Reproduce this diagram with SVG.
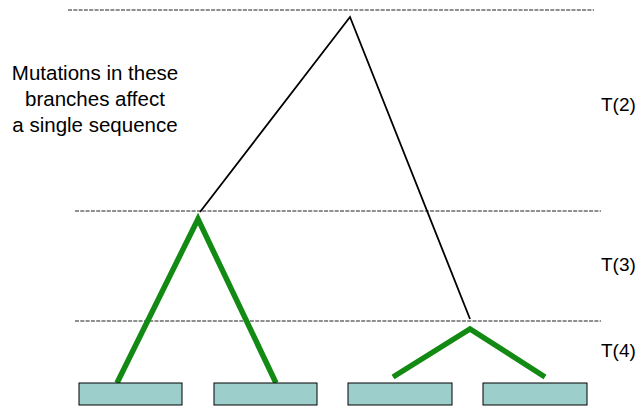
<svg xmlns="http://www.w3.org/2000/svg" width="640" height="407" viewBox="0 0 640 407">
<style>
.dot{stroke:#8f8f8f;stroke-width:2.2;stroke-dasharray:4 1.3;fill:none}
.blk{stroke:#000;stroke-width:1.8;fill:none}
.grn{stroke:#138a13;stroke-width:5.5;fill:none;stroke-linecap:butt}
.leaf{fill:#9ccfcc;stroke:#000;stroke-width:1}
.t{font-family:"Liberation Sans",Arial,sans-serif;font-size:20.5px;fill:#000}
.l{font-family:"Liberation Sans",Arial,sans-serif;font-size:19px;fill:#000}
</style>
<rect width="640" height="407" fill="#fff"/>
<g id="timelines">
<line class="dot" x1="68" y1="10" x2="594" y2="10"/>
<line class="dot" x1="75" y1="211" x2="601" y2="211"/>
<line class="dot" x1="75" y1="321" x2="601" y2="321"/>
</g>
<g id="connectors">
<polyline class="blk" points="200,212 350,17 470,319"/>
<polyline class="grn" points="117,383 198,219 276,383"/>
<polyline class="grn" points="393,377 470,329 545,377"/>
</g>
<g id="leaf1"><rect class="leaf" x="79" y="383" width="103" height="22"/></g>
<g id="leaf2"><rect class="leaf" x="214" y="383" width="103" height="22"/></g>
<g id="leaf3"><rect class="leaf" x="348" y="383" width="104" height="22"/></g>
<g id="leaf4"><rect class="leaf" x="483" y="383" width="104" height="22"/></g>
<g id="note">
<text class="t" text-anchor="middle" x="95" y="80">Mutations in these</text>
<text class="t" text-anchor="middle" x="95" y="106">branches affect</text>
<text class="t" text-anchor="middle" x="95" y="132">a single sequence</text>
</g>
<g id="labels">
<text class="l" x="601" y="111">T(2)</text>
<text class="l" x="601" y="271">T(3)</text>
<text class="l" x="601" y="357">T(4)</text>
</g>
</svg>
